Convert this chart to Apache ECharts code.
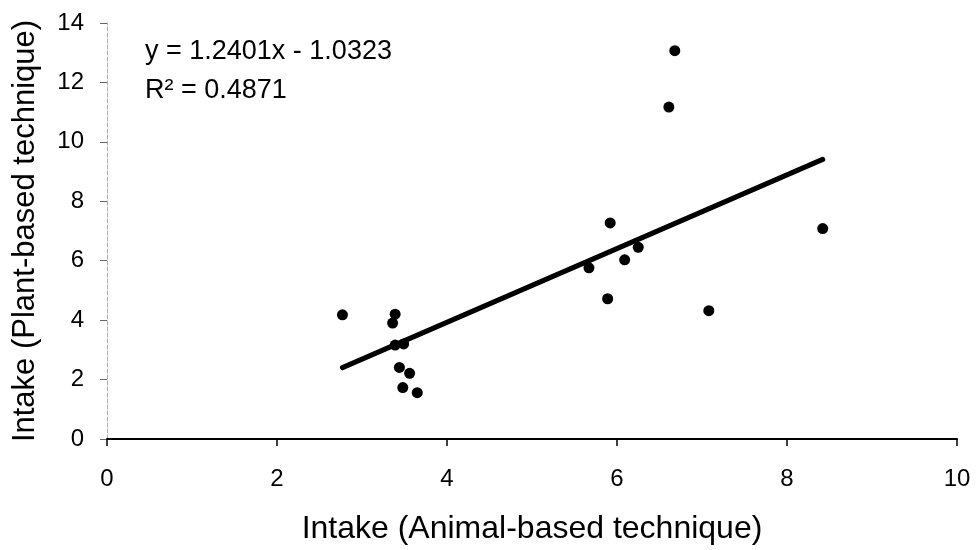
<!DOCTYPE html>
<html>
<head>
<meta charset="utf-8">
<script src="https://cdn.jsdelivr.net/npm/echarts@6/dist/echarts.min.js"></script>
<style>
  html, body { margin: 0; padding: 0; background: #fff; }
  #chart { width: 976px; height: 550px; }
</style>
</head>
<body>
<div id="chart"></div>
<script>
// animal-based vs plant-based intake
var animalX = [2.77, 3.39, 3.36, 3.39, 3.49, 3.44, 3.56, 3.48, 3.65,
  5.67, 5.89, 5.92, 6.09, 6.25, 6.61, 6.68, 7.08, 8.42]
var plantY = [4.18, 4.20, 3.90, 3.16, 3.20, 2.41, 2.21, 1.73, 1.56,
  5.76, 4.72, 7.27, 6.03, 6.45, 11.17, 13.07, 4.32, 7.08]
// regression shown on the figure
var slope = 1.2401
var intercept = -1.0323
var trendX = [2.77, 8.42]
var xTicks = [0, 2, 4, 6, 8, 10]
var yTicks = [0, 2, 4, 6, 8, 10, 12, 14]

var points = animalX.map(function (x, i) { return [x, plantY[i]] })
var trend = trendX.map(function (x) { return [x, slope * x + intercept] })

var chart = echarts.init(document.getElementById('chart'))
chart.setOption({
  backgroundColor: '#fff',
  animation: false,
  grid: {
    left: 107,
    right: 19,
    top: 23,
    bottom: 111,
    containLabel: false,
    outerBoundsMode: 'none'
  },
  xAxis: {
    type: 'value',
    min: xTicks[0],
    max: xTicks[xTicks.length - 1],
    interval: 2,
    name: 'Intake (Animal-based technique)',
    nameLocation: 'middle',
    nameGap: 74,
    nameTextStyle: { fontFamily: 'Liberation Sans', fontSize: 32, color: '#000' },
    axisLine: { onZero: false, lineStyle: { color: '#000', width: 2 } },
    axisTick: { show: true, inside: false, length: 7, lineStyle: { color: '#000', width: 1.5 } },
    axisLabel: { margin: 28, fontFamily: 'Liberation Sans', fontSize: 24, color: '#000' },
    splitLine: { show: false }
  },
  yAxis: {
    type: 'value',
    min: yTicks[0],
    max: yTicks[yTicks.length - 1],
    interval: 2,
    name: 'Intake (Plant-based technique)',
    nameLocation: 'middle',
    nameGap: 66,
    nameTextStyle: { fontFamily: 'Liberation Sans', fontSize: 31, color: '#000' },
    axisLine: { show: true, onZero: false, lineStyle: { color: '#aaa', width: 1, type: 'dashed' } },
    axisTick: { show: true, inside: false, length: 7, lineStyle: { color: '#666', width: 1 } },
    axisLabel: { margin: 23, fontFamily: 'Liberation Sans', fontSize: 24, color: '#000' },
    splitLine: { show: false }
  },
  graphic: [{
    type: 'text',
    x: 145,
    y: 52,
    style: {
      text: 'y = 1.2401x - 1.0323',
      font: '27px "Liberation Sans"',
      textVerticalAlign: 'middle',
      fill: '#000'
    }
  }, {
    type: 'text',
    x: 145,
    y: 91,
    style: {
      text: 'R² = 0.4871',
      font: '27px "Liberation Sans"',
      textVerticalAlign: 'middle',
      fill: '#000'
    }
  }],
  series: [{
    type: 'line',
    data: trend,
    symbol: 'none',
    z: 1,
    lineStyle: { color: '#000', width: 5, cap: 'round' }
  }, {
    type: 'scatter',
    data: points,
    symbol: 'circle',
    symbolSize: 11,
    z: 2,
    itemStyle: { color: '#000', opacity: 1 }
  }]
})
</script>
</body>
</html>
